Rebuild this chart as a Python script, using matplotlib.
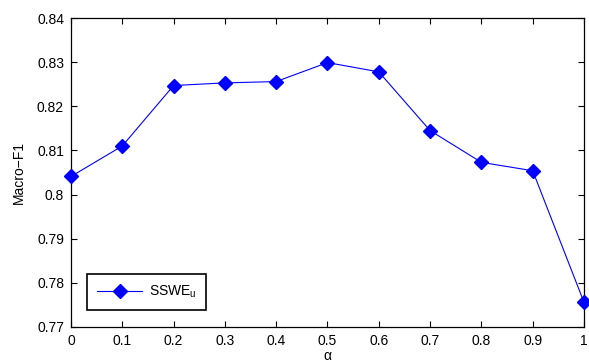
import numpy as np
import matplotlib.pyplot as plt

plt.rcParams['font.family'] = ['Liberation Sans', 'DejaVu Sans']
plt.rcParams['mathtext.fontset'] = 'custom'
plt.rcParams['mathtext.rm'] = 'Liberation Sans'
plt.rcParams['mathtext.it'] = 'Liberation Sans:italic'

alpha = [0, 0.1, 0.2, 0.3, 0.4, 0.5, 0.6, 0.7, 0.8, 0.9, 1.0]
macro_f1 = [0.8041, 0.8110, 0.8247, 0.8253, 0.8256, 0.8299, 0.8278, 0.8145, 0.8073, 0.8054, 0.7756]
xticks = [0, 0.1, 0.2, 0.3, 0.4, 0.5, 0.6, 0.7, 0.8, 0.9, 1]
yticks = [0.77, 0.78, 0.79, 0.80, 0.81, 0.82, 0.83, 0.84]
ytick_labels = ['0.77', '0.78', '0.79', '0.8', '0.81', '0.82', '0.83', '0.84']

fig = plt.figure(figsize=(5.89, 3.63), dpi=100)
ax = fig.add_axes([0.1205, 0.0992, 0.8710, 0.8512])

ax.plot(alpha, macro_f1, color='#0000ff', lw=0.8, marker='D', ms=7,
        markerfacecolor='#0000ff', markeredgecolor='#0000ff',
        label=r'SSWE$_{\mathrm{u}}$', clip_on=False, zorder=3)

ax.set_xlim(0, 1)
ax.set_ylim(0.77, 0.84)
ax.set_xticks(xticks)
ax.set_xticklabels([f'{t:g}' for t in xticks])
ax.set_yticks(yticks)
ax.set_yticklabels(ytick_labels)
ax.tick_params(direction='in', top=True, right=True, length=4, width=0.8,
               labelsize=10, pad=5)
for s in ax.spines.values():
    s.set_linewidth(0.9)

ax.set_xlabel('α', fontsize=10, labelpad=1)
ax.set_ylabel('Macro−F1', fontsize=10, labelpad=8)

leg = ax.legend(loc='lower left', bbox_to_anchor=(0.031, 0.055), borderaxespad=0,
                fancybox=False, edgecolor='black', framealpha=1, fontsize=10,
                handlelength=3.3, borderpad=0.7, handletextpad=0.45)
leg.get_frame().set_linewidth(1.2)

fig.savefig('out.png', dpi=100)
